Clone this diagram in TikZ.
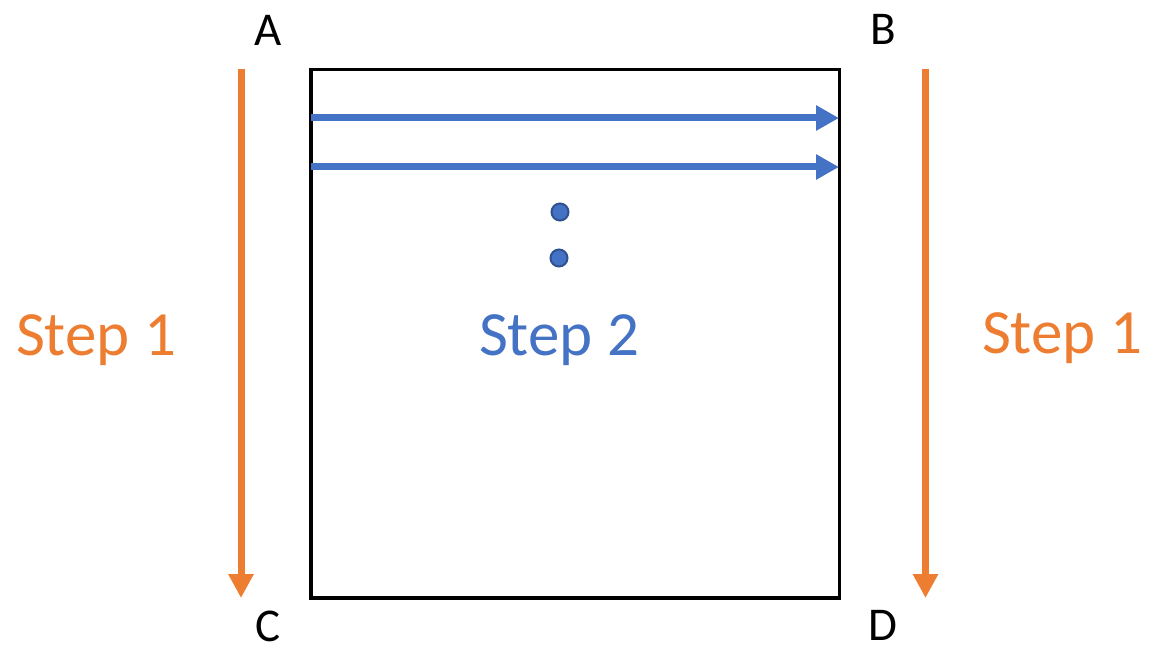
\documentclass[tikz,border=0pt]{standalone}
\usepackage{fontspec}
\setmainfont{Carlito}
\usetikzlibrary{arrows.meta}
\definecolor{orng}{HTML}{ED7D31}
\definecolor{blu}{HTML}{4472C4}
\definecolor{bluedge}{HTML}{2F528F}
\begin{document}
\begin{tikzpicture}[x=1pt,y=-1pt,
  corner/.style={anchor=base,font=\fontsize{47}{56}\selectfont,text=black,inner sep=0pt},
  steplabel/.style={anchor=base,font=\fontsize{63}{74}\selectfont,inner sep=0pt},
  orangearrow/.style={draw=orng,line width=7pt,-{Triangle[width=24pt,length=24pt]}},
  bluearrow/.style={draw=blu,line width=7pt,-{Triangle[width=24pt,length=23pt]}},
  dotmark/.style={circle,fill=blu,draw=bluedge,line width=2pt,minimum size=17pt,inner sep=0pt}]
\useasboundingbox (0,0) rectangle (1165,655);
% square
\draw[line width=3.5pt] (311,69.5) rectangle (839.5,598);
% corner labels
\node[corner] (A) at (268,46) {A};
\node[corner] (B) at (883,45) {B};
\node[corner] (C) at (268,641) {C};
\node[corner] (D) at (883,640) {D};
% orange arrows
\coordinate (l1) at (241,69);
\coordinate (l2) at (241,598);
\coordinate (r1) at (925.5,69);
\coordinate (r2) at (925.5,598);
\draw[orangearrow] (l1) -- (l2);
\draw[orangearrow] (r1) -- (r2);
% blue arrows
\coordinate (b1s) at (311,118);
\coordinate (b1e) at (839,118);
\coordinate (b2s) at (311,167);
\coordinate (b2e) at (839,167);
\draw[bluearrow] (b1s) -- (b1e);
\draw[bluearrow] (b2s) -- (b2e);
% dots
\node[dotmark] (d1) at (560,212) {};
\node[dotmark] (d2) at (559,258) {};
% step labels
\node[steplabel,text=orng] (s1l) at (96,355) {Step 1};
\node[steplabel,text=blu] (s2) at (559,355) {Step 2};
\node[steplabel,text=orng] (s1r) at (1062,353) {Step 1};
\end{tikzpicture}
\end{document}
